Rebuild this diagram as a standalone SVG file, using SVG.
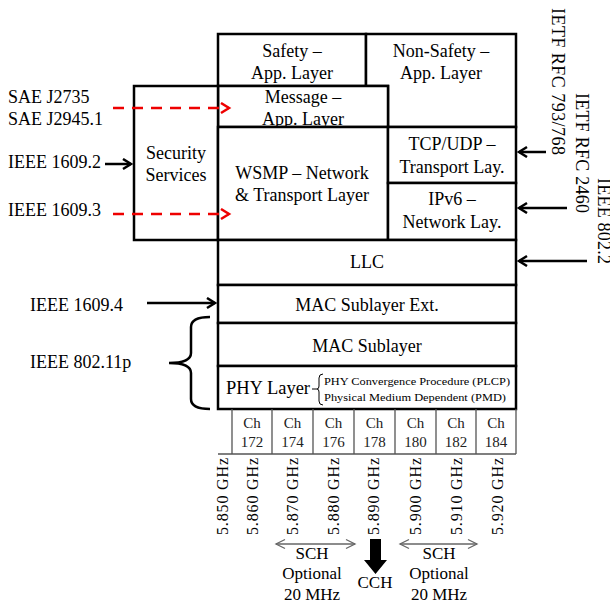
<svg xmlns="http://www.w3.org/2000/svg" width="610" height="607" viewBox="0 0 610 607" font-family="'Liberation Serif','Times New Roman',serif">
<style>
text{font-family:"Liberation Serif","Times New Roman",serif;fill:#000}
.t{font-family:"Liberation Serif",serif;font-size:18px;text-anchor:middle}
.l{font-family:"Liberation Serif",serif;font-size:18px}
.ch{font-family:"Liberation Serif",serif;font-size:15px;text-anchor:middle;fill:#222}
.f{font-family:"Liberation Serif",serif;font-size:16px;text-anchor:middle}
.s{font-family:"Liberation Serif",serif;font-size:11px}
.b{font-family:"Liberation Serif",serif;font-size:17px;text-anchor:middle}
.box{fill:#fff;stroke:#000;stroke-width:2.5}
.cell{fill:none;stroke:#555;stroke-width:1.3}
.ar{stroke:#000;stroke-width:2.5;fill:none}
.red{stroke:#e00;stroke-width:2.5;fill:none;stroke-dasharray:11 8}
.gr{stroke:#666;stroke-width:1.3;fill:none}
</style>
<defs>
<marker id="ab" markerUnits="userSpaceOnUse" markerWidth="14" markerHeight="14" refX="10" refY="6" orient="auto"><path d="M2,1 L10,6 L2,11" fill="none" stroke="#000" stroke-width="2.5"/></marker>
<marker id="ar" markerUnits="userSpaceOnUse" markerWidth="14" markerHeight="14" refX="10" refY="6" orient="auto"><path d="M2,1 L10,6 L2,11" fill="none" stroke="#e00" stroke-width="2.5"/></marker>
<marker id="ag" markerUnits="userSpaceOnUse" markerWidth="14" markerHeight="14" refX="10" refY="6" orient="auto-start-reverse"><path d="M1,1.5 L10,6 L1,10.5" fill="none" stroke="#666" stroke-width="1.3"/></marker>
</defs>

<g id="safety"><rect class="box" x="218" y="34" width="148" height="52"/><text class="t" x="292" y="57">Safety –</text><text class="t" x="292" y="79">App. Layer</text></g>
<g id="nonsafety"><path class="box" d="M366,34 H516 V127 H388 V86 H366 Z"/><text class="t" x="441" y="57">Non-Safety –</text><text class="t" x="441" y="79">App. Layer</text></g>
<g id="message"><rect class="box" x="218" y="86" width="170" height="41"/><text class="t" x="303" y="103">Message –</text><text class="t" x="303" y="125">App. Layer</text></g>
<g id="security"><rect class="box" x="134" y="86" width="84" height="154"/><text class="t" x="176" y="159">Security</text><text class="t" x="176" y="181">Services</text></g>
<g id="wsmp"><rect class="box" x="218" y="127" width="170" height="113"/><text class="t" x="302" y="179">WSMP – Network</text><text class="t" x="302" y="201">&amp; Transport Layer</text></g>
<g id="tcp"><rect class="box" x="388" y="127" width="128" height="56"/><text class="t" x="452" y="150">TCP/UDP –</text><text class="t" x="452" y="173">Transport Lay.</text></g>
<g id="ipv6"><rect class="box" x="388" y="183" width="128" height="57"/><text class="t" x="452" y="205">IPv6 –</text><text class="t" x="452" y="228">Network Lay.</text></g>
<g id="llc"><rect class="box" x="218" y="240" width="298" height="45"/><text class="t" x="367" y="268">LLC</text></g>
<g id="macext"><rect class="box" x="218" y="285" width="298" height="38"/><text class="t" x="367" y="311">MAC Sublayer Ext.</text></g>
<g id="mac"><rect class="box" x="218" y="323" width="298" height="43"/><text class="t" x="367" y="352">MAC Sublayer</text></g>
<g id="phy"><rect class="box" x="218" y="366" width="298" height="43"/>
<text class="l" x="226" y="394" textLength="84" lengthAdjust="spacingAndGlyphs">PHY Layer</text>
<path d="M312,389 H317 M323,374 Q319,374 319,378 V386 Q319,389 317,389 Q319,389 319,392 V401 Q319,405 323,405" fill="none" stroke="#000" stroke-width="1"/>
<text class="s" x="324" y="385" textLength="186" lengthAdjust="spacingAndGlyphs">PHY Convergence Procedure (PLCP)</text>
<text class="s" x="324" y="401" textLength="182" lengthAdjust="spacingAndGlyphs">Physical Medium Dependent (PMD)</text>
</g>

<g id="channels">
<path class="cell" d="M218,454 H516 M232,409 V454 M272,409 V454 M313,409 V454 M354,409 V454 M395,409 V454 M436,409 V454 M476,409 V454 M516,409 V454"/>
<text class="ch" x="252" y="428">Ch</text><text class="ch" x="252" y="447">172</text>
<text class="ch" x="292.5" y="428">Ch</text><text class="ch" x="292.5" y="447">174</text>
<text class="ch" x="333.5" y="428">Ch</text><text class="ch" x="333.5" y="447">176</text>
<text class="ch" x="374.5" y="428">Ch</text><text class="ch" x="374.5" y="447">178</text>
<text class="ch" x="415.5" y="428">Ch</text><text class="ch" x="415.5" y="447">180</text>
<text class="ch" x="456" y="428">Ch</text><text class="ch" x="456" y="447">182</text>
<text class="ch" x="496" y="428">Ch</text><text class="ch" x="496" y="447">184</text>
</g>

<g id="freqs">
<text class="f" transform="translate(227.5,496.5) rotate(-90)" textLength="77" lengthAdjust="spacing">5.850 GHz</text>
<text class="f" transform="translate(257.5,496.5) rotate(-90)" textLength="77" lengthAdjust="spacing">5.860 GHz</text>
<text class="f" transform="translate(297.5,496.5) rotate(-90)" textLength="77" lengthAdjust="spacing">5.870 GHz</text>
<text class="f" transform="translate(338.5,496.5) rotate(-90)" textLength="77" lengthAdjust="spacing">5.880 GHz</text>
<text class="f" transform="translate(379,496.5) rotate(-90)" textLength="77" lengthAdjust="spacing">5.890 GHz</text>
<text class="f" transform="translate(420.5,496.5) rotate(-90)" textLength="77" lengthAdjust="spacing">5.900 GHz</text>
<text class="f" transform="translate(461.5,496.5) rotate(-90)" textLength="77" lengthAdjust="spacing">5.910 GHz</text>
<text class="f" transform="translate(502.5,496.5) rotate(-90)" textLength="77" lengthAdjust="spacing">5.920 GHz</text>
</g>

<g id="bands">
<text class="b" x="312" y="559">SCH</text>
<text class="b" x="312" y="579">Optional</text>
<text class="b" x="312" y="600">20 MHz</text>
<text class="b" x="375" y="588">CCH</text>
<text class="b" x="439" y="559">SCH</text>
<text class="b" x="439" y="579">Optional</text>
<text class="b" x="439" y="600">20 MHz</text>
</g>

<g id="labels">
<text class="l" x="8" y="103">SAE J2735</text>
<text class="l" x="8" y="125">SAE J2945.1</text>
<text class="l" x="8" y="168">IEEE 1609.2</text>
<text class="l" x="8" y="216">IEEE 1609.3</text>
<text class="l" x="30" y="311">IEEE 1609.4</text>
<text class="l" x="30" y="368">IEEE 802.11p</text>
<text class="l" transform="translate(552,81.5) rotate(90)" text-anchor="middle" textLength="147" lengthAdjust="spacing">IETF RFC 793/768</text>
<text class="l" transform="translate(576,153) rotate(90)" text-anchor="middle" textLength="120" lengthAdjust="spacing">IETF RFC 2460</text>
<text class="l" transform="translate(598,221) rotate(90)" text-anchor="middle" textLength="86" lengthAdjust="spacing">IEEE 802.2</text>
</g>

<g id="connectors">
<path class="red" d="M113,108 H229" marker-end="url(#ar)"/>
<path class="red" d="M113,214 H229" marker-end="url(#ar)"/>
<path class="ar" d="M105,164 H131" marker-end="url(#ab)"/>
<path class="ar" d="M147,303 H215" marker-end="url(#ab)"/>
<path class="ar" d="M546,152 H519" marker-end="url(#ab)"/>
<path class="ar" d="M567,208 H519" marker-end="url(#ab)"/>
<path class="ar" d="M587,261 H519" marker-end="url(#ab)"/>
<path d="M210,317 Q191,317 191,327 V353 Q191,363 169,363 Q191,363 191,373 V399 Q191,409 210,409" fill="none" stroke="#000" stroke-width="2.5"/>
<path class="gr" d="M276,544 H355" marker-start="url(#ag)" marker-end="url(#ag)"/>
<path class="gr" d="M400,544 H477" marker-start="url(#ag)" marker-end="url(#ag)"/>
<path d="M370,539 H381 V560 H387 L375.5,574 L364,560 H370 Z" fill="#000"/>
</g>
</svg>
